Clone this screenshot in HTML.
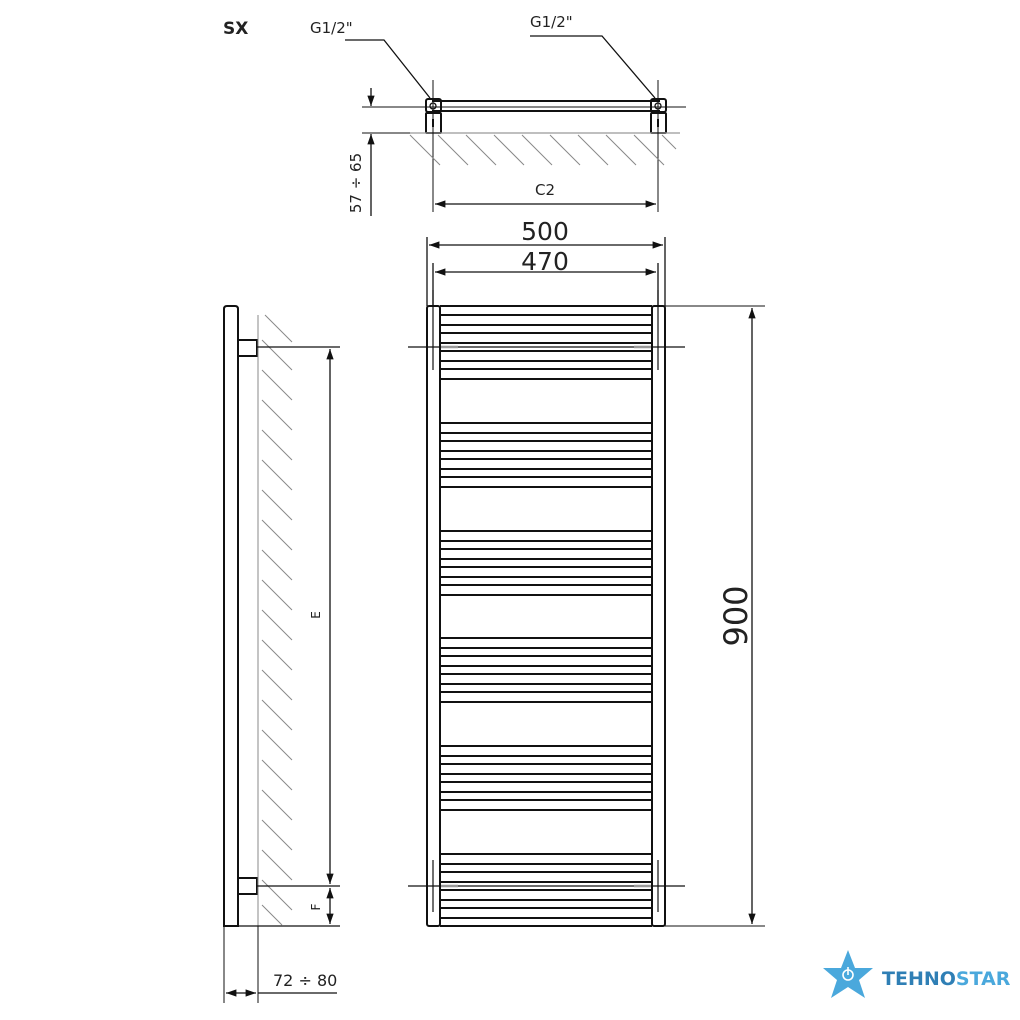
<!DOCTYPE html>
<html><head><meta charset="utf-8"><style>
html,body{margin:0;padding:0;background:#fff;}
svg{display:block;}
text{font-family:"DejaVu Sans","Liberation Sans",sans-serif;fill:#222;}
</style></head><body>
<svg width="1020" height="1020" viewBox="0 0 1020 1020" xmlns="http://www.w3.org/2000/svg">
<defs>
<marker id="a" viewBox="0 0 10 10" refX="10" refY="5" markerWidth="8" markerHeight="8" orient="auto-start-reverse"><path d="M0,1.5 L10,5 L0,8.5z" fill="#111"/></marker>
<g id="bars" stroke="#111" stroke-width="2">
<line x1="441" y1="0" x2="652" y2="0"/><line x1="441" y1="10" x2="652" y2="10"/>
<line x1="441" y1="18" x2="652" y2="18"/><line x1="441" y1="28" x2="652" y2="28"/>
<line x1="441" y1="36" x2="652" y2="36"/><line x1="441" y1="46" x2="652" y2="46"/>
<line x1="441" y1="54" x2="652" y2="54"/><line x1="441" y1="64" x2="652" y2="64"/>
</g>
</defs>

<text x="223" y="34" font-size="17" font-weight="bold" font-family="Liberation Sans">SX</text>

<!-- TOP VIEW -->
<g fill="none" stroke="#111" stroke-width="1.3">
<text x="310" y="33" font-size="15" stroke="none">G1/2"</text>
<polyline points="345,40 384,40 430,98"/>
<text x="530" y="27" font-size="15" stroke="none">G1/2"</text>
<polyline points="530,36 602,36 655,98"/>
<line x1="432" y1="101" x2="660" y2="101" stroke-width="2"/>
<line x1="432" y1="111" x2="660" y2="111" stroke-width="2"/>
<rect x="426" y="99" width="15" height="13" rx="2" stroke-width="2"/>
<rect x="426" y="113" width="15" height="20" rx="1" stroke-width="2"/>
<rect x="651" y="99" width="15" height="13" rx="2" stroke-width="2"/>
<rect x="651" y="113" width="15" height="20" rx="1" stroke-width="2"/>
<circle cx="433" cy="106" r="3"/><circle cx="658" cy="106" r="3"/>
<line x1="433" y1="119" x2="433" y2="127" stroke-width="2"/><line x1="658" y1="119" x2="658" y2="127" stroke-width="2"/>
<line x1="362" y1="107" x2="686" y2="107" stroke-width="1"/>
<line x1="410" y1="133" x2="680" y2="133" stroke="#999"/>
<line x1="433" y1="80" x2="433" y2="212" stroke-width="1"/>
<line x1="658" y1="80" x2="658" y2="212" stroke-width="1"/>
<g stroke="#888" stroke-width="1">
<line x1="410" y1="135" x2="440" y2="165"/><line x1="438" y1="135" x2="468" y2="165"/><line x1="466" y1="135" x2="496" y2="165"/>
<line x1="494" y1="135" x2="524" y2="165"/><line x1="522" y1="135" x2="552" y2="165"/><line x1="550" y1="135" x2="580" y2="165"/>
<line x1="578" y1="135" x2="608" y2="165"/><line x1="606" y1="135" x2="636" y2="165"/><line x1="634" y1="135" x2="664" y2="165"/>
<line x1="662" y1="135" x2="676" y2="149"/>
</g>
<line x1="435" y1="204" x2="656" y2="204" marker-start="url(#a)" marker-end="url(#a)"/>
<text x="545" y="195" font-size="15" stroke="none" text-anchor="middle">C2</text>
<line x1="371" y1="88" x2="371" y2="106" marker-end="url(#a)"/>
<line x1="371" y1="216" x2="371" y2="134" marker-end="url(#a)"/>
<line x1="362" y1="133" x2="410" y2="133" stroke-width="1"/>
<text transform="translate(361,183) rotate(-90)" font-size="15" stroke="none" text-anchor="middle">57 ÷ 65</text>
</g>

<!-- FRONT VIEW dims -->
<g fill="none" stroke="#111" stroke-width="1.3">
<line x1="427" y1="237" x2="427" y2="306"/><line x1="665" y1="237" x2="665" y2="306"/>
<line x1="433" y1="263" x2="433" y2="306"/><line x1="658" y1="263" x2="658" y2="306"/>
<line x1="429" y1="245" x2="663" y2="245" marker-start="url(#a)" marker-end="url(#a)"/>
<line x1="435" y1="272" x2="656" y2="272" marker-start="url(#a)" marker-end="url(#a)"/>
<text x="545" y="240" font-size="25" stroke="none" text-anchor="middle">500</text>
<text x="545" y="270" font-size="25" stroke="none" text-anchor="middle">470</text>
<line x1="665" y1="306" x2="765" y2="306" stroke-width="1"/>
<line x1="665" y1="926" x2="765" y2="926" stroke-width="1"/>
<line x1="752" y1="308" x2="752" y2="924" marker-start="url(#a)" marker-end="url(#a)"/>
<text transform="translate(747,616) rotate(-90)" font-size="32" stroke="none" text-anchor="middle">900</text>
</g>

<!-- radiator -->
<g fill="none" stroke="#111" stroke-width="2">
<rect x="427" y="306" width="13" height="620" rx="2"/>
<rect x="652" y="306" width="13" height="620" rx="2"/>
<line x1="440" y1="306" x2="652" y2="306"/>
<line x1="440" y1="926" x2="652" y2="926"/>
</g>
<use href="#bars" y="315"/><use href="#bars" y="423"/><use href="#bars" y="531"/>
<use href="#bars" y="638"/><use href="#bars" y="746"/><use href="#bars" y="854"/>
<g stroke="#111" stroke-width="1.2">
<line x1="408" y1="347" x2="685" y2="347"/><line x1="408" y1="886" x2="685" y2="886"/>
<line x1="433" y1="290" x2="433" y2="370"/><line x1="658" y1="290" x2="658" y2="370"/>
<line x1="433" y1="860" x2="433" y2="912"/><line x1="658" y1="860" x2="658" y2="912"/>
</g>
<g stroke="#999" stroke-width="2.5">
<line x1="441" y1="347" x2="458" y2="347"/><line x1="634" y1="347" x2="651" y2="347"/>
<line x1="441" y1="886" x2="458" y2="886"/><line x1="634" y1="886" x2="651" y2="886"/>
</g>

<!-- SIDE VIEW -->
<g fill="none" stroke="#111" stroke-width="2">
<path d="M224,926 V309 Q224,306 227,306 H235 Q238,306 238,309 V926 Z"/>
<rect x="238" y="340" width="19" height="16"/>
<rect x="238" y="878" width="19" height="16"/>
</g>
<g stroke="#888" stroke-width="1">
<line x1="258" y1="315" x2="258" y2="926"/>
<line x1="265" y1="315" x2="292" y2="342"/><line x1="262" y1="340" x2="292" y2="370"/>
<line x1="262" y1="370" x2="292" y2="400"/><line x1="262" y1="400" x2="292" y2="430"/>
<line x1="262" y1="430" x2="292" y2="460"/><line x1="262" y1="460" x2="292" y2="490"/>
<line x1="262" y1="490" x2="292" y2="520"/><line x1="262" y1="520" x2="292" y2="550"/>
<line x1="262" y1="550" x2="292" y2="580"/><line x1="262" y1="580" x2="292" y2="610"/>
<line x1="262" y1="610" x2="292" y2="640"/><line x1="262" y1="640" x2="292" y2="670"/>
<line x1="262" y1="670" x2="292" y2="700"/><line x1="262" y1="700" x2="292" y2="730"/>
<line x1="262" y1="730" x2="292" y2="760"/><line x1="262" y1="760" x2="292" y2="790"/>
<line x1="262" y1="790" x2="292" y2="820"/><line x1="262" y1="820" x2="292" y2="850"/>
<line x1="262" y1="850" x2="292" y2="880"/><line x1="262" y1="880" x2="292" y2="910"/>
<line x1="262" y1="905" x2="282" y2="925"/>
</g>
<g fill="none" stroke="#111" stroke-width="1.3">
<line x1="257" y1="347" x2="340" y2="347"/>
<line x1="257" y1="886" x2="340" y2="886"/>
<line x1="224" y1="926" x2="340" y2="926"/>
<line x1="330" y1="349" x2="330" y2="884" marker-start="url(#a)" marker-end="url(#a)"/>
<line x1="330" y1="888" x2="330" y2="924" marker-start="url(#a)" marker-end="url(#a)"/>
<line x1="224" y1="926" x2="224" y2="1003" stroke-width="1"/>
<line x1="258" y1="926" x2="258" y2="1003" stroke-width="1"/>
<line x1="226" y1="993" x2="256" y2="993" marker-start="url(#a)" marker-end="url(#a)"/>
<line x1="258" y1="993" x2="337" y2="993"/>
<text transform="translate(320,615) rotate(-90)" font-size="12" stroke="none" text-anchor="middle">E</text>
<text transform="translate(320,907) rotate(-90)" font-size="12" stroke="none" text-anchor="middle">F</text>
<text x="273" y="986" font-size="16" stroke="none">72 ÷ 80</text>
</g>

<!-- logo -->
<g>
<polygon points="848,950 855,968 873,968 859,980 865,998 848,987 831,998 837,980 823,968 841,968" fill="#4aa8dc"/>
<circle cx="848" cy="975" r="5" fill="none" stroke="#fff" stroke-width="1.6"/>
<line x1="848" y1="967" x2="848" y2="975" stroke="#fff" stroke-width="1.6"/>
<text x="882" y="985" font-size="19" font-weight="bold" font-family="Liberation Sans" style="fill:#2f7fb5">TEHNO<tspan style="fill:#4aa8dc">STAR</tspan></text>
</g>
</svg>
</body></html>
